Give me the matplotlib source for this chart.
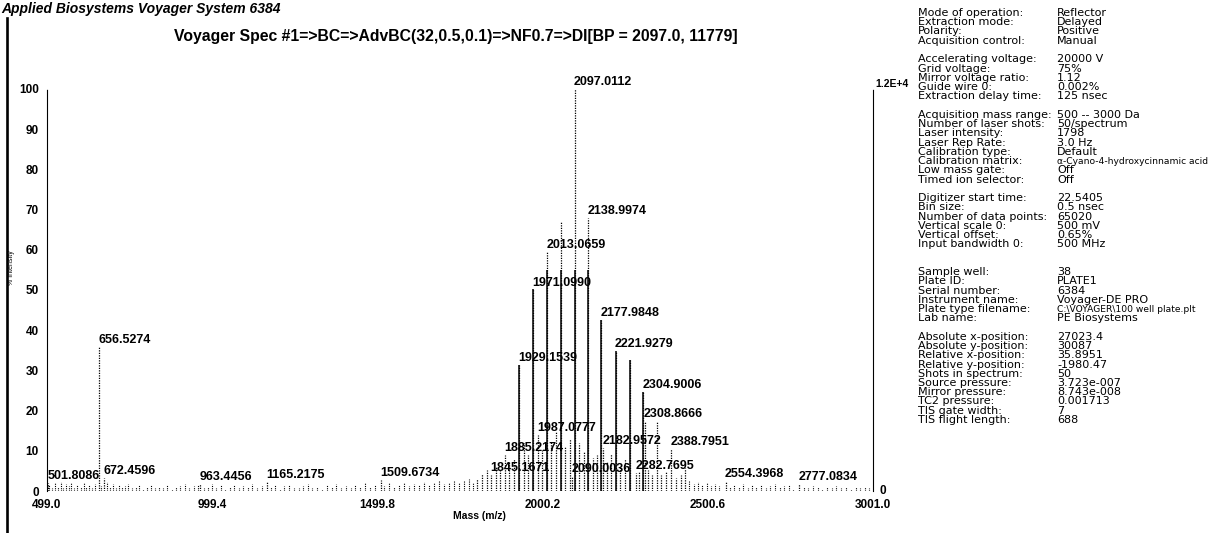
import matplotlib.pyplot as plt
from matplotlib.lines import Line2D

plt.rcParams['font.family'] = ['Liberation Sans', 'DejaVu Sans']

# labelled peaks: m/z and % intensity (base peak 2097.0 = 100 %)
peak_mz = [501.8086, 656.5274, 672.4596, 963.4456, 1165.2175, 1509.6734,
           1845.1671, 1885.2174, 1929.1539, 1971.0990, 1987.0777, 2013.0659,
           2090.0036, 2097.0112, 2138.9974, 2177.9848, 2182.9572, 2221.9279,
           2282.7695, 2304.9006, 2308.8666, 2388.7951, 2554.3968, 2777.0834]
peak_int = [2.0, 35.8, 3.2, 1.8, 2.3, 2.8,
            4.0, 9.0, 31.3, 50.2, 13.9, 59.5,
            3.7, 100.0, 67.9, 42.5, 10.7, 34.8,
            4.5, 24.6, 17.4, 10.4, 2.5, 1.8]

# unlabelled peaks of the main cluster
cluster_mz = [1803, 1817, 1831, 1859, 1871, 1899, 1913, 1943, 1955, 1999,
              2027, 2041, 2055.0, 2069, 2083, 2111, 2125, 2153, 2165, 2195,
              2208, 2236, 2250, 2264.6, 2292, 2320, 2333, 2347, 2360, 2375,
              2405, 2420, 2432]
cluster_int = [3.0, 4.2, 5.1, 6.0, 5.2, 7.1, 8.0, 12.0, 9.0, 10.2,
               12.3, 15.0, 67.0, 11.0, 13.0, 12.0, 10.0, 8.1, 9.0, 7.2,
               9.1, 6.2, 8.0, 32.6, 5.0, 5.1, 4.0, 17.5, 4.1, 5.0,
               3.2, 4.0, 5.8]

# main series drawn with solid stems
series_mz = [1929.1539, 1971.0990, 2013.0659, 2055.0, 2097.0112, 2138.9974,
             2177.9848, 2221.9279, 2264.6, 2304.9006]
series_int = [31.3, 50.2, 59.5, 67.0, 100.0, 67.9, 42.5, 34.8, 32.6, 24.6]

# baseline noise
noise_mz = [506, 514, 523, 531, 540, 547, 556, 565, 573, 582, 590, 601, 611,
            618, 627, 636, 645, 663, 681, 690, 699, 708, 718, 727, 736, 745,
            757, 768, 779, 790, 801, 813, 826, 839, 851, 864, 877, 890, 903,
            917, 930, 944, 957, 975, 986, 999, 1012, 1026, 1039, 1053, 1066,
            1080, 1094, 1108, 1121, 1135, 1149, 1176, 1190, 1204, 1218, 1232,
            1246, 1261, 1275, 1289, 1303, 1318, 1332, 1346, 1361, 1375, 1390,
            1404, 1419, 1433, 1448, 1462, 1477, 1492, 1521, 1536, 1551, 1566,
            1581, 1596, 1611, 1626, 1641, 1656, 1671, 1686, 1701, 1716, 1731,
            1746, 1761, 1776, 1789, 2445, 2458, 2471, 2484, 2497, 2510, 2523,
            2536, 2567, 2580, 2594, 2607, 2621, 2635, 2648, 2662, 2676, 2690,
            2704, 2718, 2732, 2746, 2760, 2791, 2805, 2819, 2833, 2848, 2862,
            2876, 2890, 2905, 2919, 2934, 2948, 2962, 2977, 2990]
noise_int = [1.5, 0.8, 1.9, 1.0, 2.2, 0.7, 1.8, 1.2, 2.0, 0.8, 1.6, 1.1, 1.9,
             0.9, 1.5, 0.7, 1.8, 1.3, 2.3, 1.0, 1.7, 0.8, 1.4, 0.9, 1.2, 1.8,
             0.7, 1.0, 1.6, 0.6, 1.0, 1.4, 0.7, 1.1, 0.8, 1.5, 0.6, 0.9, 1.2,
             1.7, 0.8, 1.3, 1.5, 0.7, 1.0, 1.8, 0.8, 1.4, 0.6, 1.1, 1.6, 0.8,
             1.2, 0.9, 1.8, 0.7, 1.3, 1.0, 1.4, 0.6, 1.2, 1.6, 0.8, 0.7, 1.2,
             1.7, 0.8, 1.1, 0.6, 1.4, 1.0, 1.8, 0.8, 1.3, 0.7, 1.5, 1.0, 1.9,
             0.9, 1.6, 1.2, 2.0, 1.0, 1.4, 2.1, 1.2, 1.8, 1.5, 2.2, 1.4, 1.9,
             2.4, 1.7, 2.1, 2.6, 1.9, 2.4, 2.9, 2.1, 2.7, 1.7, 2.2, 1.4, 2.0,
             1.2, 1.8, 1.3, 0.9, 1.5, 1.1, 1.8, 0.8, 1.4, 1.0, 1.6, 0.7, 1.2,
             1.7, 0.9, 1.2, 1.5, 0.6, 1.1, 0.8, 1.3, 1.0, 0.6, 1.0, 0.8, 1.2,
             0.7, 1.0, 0.6, 1.1, 0.8, 0.9, 0.7]

x_ticks = [499.0, 999.4, 1499.8, 2000.2, 2500.6, 3001.0]
y_ticks = [0, 10, 20, 30, 40, 50, 60, 70, 80, 90, 100]

info_keys = [
    "Mode of operation:", "Extraction mode:", "Polarity:", "Acquisition control:", "",
    "Accelerating voltage:", "Grid voltage:", "Mirror voltage ratio:", "Guide wire 0:",
    "Extraction delay time:", "",
    "Acquisition mass range:", "Number of laser shots:", "Laser intensity:",
    "Laser Rep Rate:", "Calibration type:", "Calibration matrix:", "Low mass gate:",
    "Timed ion selector:", "",
    "Digitizer start time:", "Bin size:", "Number of data points:", "Vertical scale 0:",
    "Vertical offset:", "Input bandwidth 0:", "", "",
    "Sample well:", "Plate ID:", "Serial number:", "Instrument name:",
    "Plate type filename:", "Lab name:", "",
    "Absolute x-position:", "Absolute y-position:", "Relative x-position:",
    "Relative y-position:", "Shots in spectrum:", "Source pressure:", "Mirror pressure:",
    "TC2 pressure:", "TIS gate width:", "TIS flight length:"]
info_vals = [
    "Reflector", "Delayed", "Positive", "Manual", "",
    "20000 V", "75%", "1.12", "0.002%", "125 nsec", "",
    "500 -- 3000 Da", "50/spectrum", "1798", "3.0 Hz", "Default",
    "\u03b1-Cyano-4-hydroxycinnamic acid", "Off", "Off", "",
    "22.5405", "0.5 nsec", "65020", "500 mV", "0.65%", "500 MHz", "", "",
    "38", "PLATE1", "6384", "Voyager-DE PRO", "C:\\VOYAGER\\100 well plate.plt",
    "PE Biosystems", "",
    "27023.4", "30087", "35.8951", "-1980.47", "50", "3.723e-007", "8.743e-008",
    "0.001713", "7", "688"]

W, H = 1226, 533
fig = plt.figure(figsize=(W / 100, H / 100), dpi=100)
ax = fig.add_axes([47 / W, 1 - 491 / H, 826 / W, 402 / H])

dot = (0, (1, 1))
ax.vlines(noise_mz, 0, noise_int, colors="black", linestyles=dot, lw=0.8)
ax.vlines(cluster_mz, 0, cluster_int, colors="black", linestyles=dot, lw=0.9)
ax.vlines(peak_mz, 0, peak_int, colors="black", linestyles=dot, lw=0.9)
# lower part of the main series looks solid
ax.vlines(series_mz, 0, [min(v, 55) for v in series_int], colors="black", lw=1.1)

for m, v in zip(peak_mz, peak_int):
    ax.annotate(f"{m:.4f}", (m, v), xytext=(-0.5, 0.5), textcoords="offset points",
                ha="left", va="bottom", fontsize=9, fontweight="bold")

ax.set_xlim(499.0, 3001.0)
ax.set_ylim(0, 100)
ax.set_xticks(x_ticks)
ax.set_xticklabels([f"{t:.1f}" for t in x_ticks], fontsize=8.5, fontweight="bold")
ax.set_yticks(y_ticks)
ax.set_yticklabels([str(t) for t in y_ticks], fontsize=8.5, fontweight="bold")
ax.tick_params(length=0, pad=6)

for side in ("top", "bottom"):
    ax.spines[side].set_visible(False)
for side in ("left", "right"):
    ax.spines[side].set_linestyle(dot)
    ax.spines[side].set_linewidth(0.8)

ax.text(1.003, 1.0, "1.2E+4", transform=ax.transAxes, ha="left", va="bottom",
        fontsize=7.5, fontweight="bold")
ax.text(1.008, 0.0, "0", transform=ax.transAxes, ha="left", va="center",
        fontsize=8.5, fontweight="bold")
ax.text(0.524, -0.062, "Mass (m/z)", transform=ax.transAxes, ha="center", va="center",
        fontsize=7.5, fontweight="bold")
fig.text(12 / W, 1 - 268 / H, "% Intensity", rotation=90, ha="center", va="center",
         fontsize=5)

fig.text(1 / W, 1 - 13 / H, "Applied Biosystems Voyager System 6384", ha="left",
         va="baseline", fontsize=10, fontweight="bold", style="italic")
fig.text(456 / W, 1 - 36 / H,
         "Voyager Spec #1=>BC=>AdvBC(32,0.5,0.1)=>NF0.7=>DI[BP = 2097.0, 11779]",
         ha="center", va="center", fontsize=11.3, fontweight="bold")

for i, (k, v) in enumerate(zip(info_keys, info_vals)):
    y = 1 - (13 + i * 9.25) / H
    fig.text(918 / W, y, k, ha="left", va="center", fontsize=8, family="DejaVu Sans")
    # the long matrix name is set a little smaller so it stays on the page
    size = 6.6 if len(v) > 28 else 8
    fig.text(1057 / W, y, v, ha="left", va="center", fontsize=size,
             family="DejaVu Sans")

fig.add_artist(Line2D([6.5 / W, 6.5 / W], [0, 1 - 18 / H], color="black", lw=1.9))

fig.savefig("out.png", dpi=100)
